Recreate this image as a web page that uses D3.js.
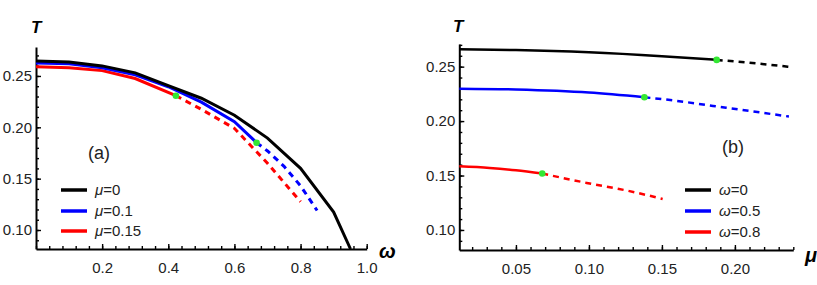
<!DOCTYPE html>
<html><head><meta charset="utf-8">
<script src="https://cdn.jsdelivr.net/npm/d3@7"></script>
<style>body{margin:0;background:#fff}svg{display:block}text{font-family:"Liberation Sans",Arial,sans-serif}</style>
</head><body><svg id="c" width="817" height="285"></svg>
<script>
// Panel (a): T vs omega
const aBlackW = [0, 0.1, 0.2, 0.3, 0.4, 0.5, 0.6, 0.7, 0.8, 0.9, 0.951];
const aBlackT = [0.2645, 0.2635, 0.2598, 0.2530, 0.2405, 0.2283, 0.2118, 0.1895, 0.1600, 0.1175, 0.0815];
const aBlueW = [0, 0.1, 0.2, 0.3, 0.4, 0.5, 0.6, 0.667];
const aBlueT = [0.2627, 0.2618, 0.2580, 0.2512, 0.2395, 0.2245, 0.2055, 0.1850];
const aBlueDW = [0.667, 0.7, 0.75, 0.8, 0.85];
const aBlueDT = [0.1850, 0.1770, 0.1620, 0.1430, 0.1190];
const aRedW = [0, 0.1, 0.2, 0.3, 0.423];
const aRedT = [0.2590, 0.2580, 0.2552, 0.2475, 0.2308];
const aRedDW = [0.423, 0.5, 0.6, 0.7, 0.8];
const aRedDT = [0.2308, 0.2175, 0.1990, 0.1650, 0.1275];
const aDotsW = [0.423, 0.667];
const aDotsT = [0.2308, 0.1850];
const aLegend = ["0", "0.1", "0.15"];
const aXTicks = [0.2, 0.4, 0.6, 0.8, 1.0];
const aYTicks = [0.10, 0.15, 0.20, 0.25];

// Panel (b): T vs mu
const bBlackM = [0.0112, 0.05, 0.1, 0.15, 0.1875];
const bBlackT = [0.2660, 0.2653, 0.2632, 0.2596, 0.2562];
const bBlackDM = [0.1875, 0.21, 0.24];
const bBlackDT = [0.2562, 0.2536, 0.2494];
const bBlueM = [0.0112, 0.05, 0.1, 0.138];
const bBlueT = [0.2298, 0.2290, 0.2262, 0.2219];
const bBlueDM = [0.138, 0.16, 0.185, 0.21, 0.237];
const bBlueDT = [0.2219, 0.2186, 0.2139, 0.2093, 0.2042];
const bRedM = [0.0112, 0.032, 0.05, 0.068];
const bRedT = [0.1585, 0.1570, 0.1548, 0.1518];
const bRedDM = [0.068, 0.0985, 0.126, 0.1505];
const bRedDT = [0.1518, 0.1432, 0.1362, 0.1285];
const bDotsM = [0.1875, 0.138, 0.068];
const bDotsT = [0.2562, 0.2219, 0.1518];
const bLegend = ["0", "0.5", "0.8"];
const bXTicks = [0.05, 0.10, 0.15, 0.20];
const bYTicks = [0.10, 0.15, 0.20, 0.25];

const colors = ["#000000", "#0000ff", "#ff0000"];
const green = "#33e833";
const svg = d3.select("#c");

const xa = d3.scaleLinear().domain([0, 1.0]).range([36, 366.7]);
const ya = d3.scaleLinear().domain([0.0815, 0.2782]).range([249, 47]);
const xb = d3.scaleLinear().domain([0.0112, 0.24]).range([459.3, 793.3]);
const yb = d3.scaleLinear().domain([0.0816, 0.2708]).range([250, 44]);

function range(a, b, s) { const r = []; for (let v = a; v <= b + 1e-9; v += s) r.push(+v.toFixed(4)); return r; }

function axes(x, y, xt, yt, xMinor, yMinor, xfmt, yfmt) {
  const [x0] = x.range(); const [y0] = y.range();
  const g = svg.append("g");
  const xa_ = g.append("g").attr("transform", `translate(0,${y0})`)
    .call(d3.axisBottom(x).tickValues(xt).tickFormat(xfmt).tickSize(-5).tickSizeOuter(0).tickPadding(13));
  xa_.select(".domain").attr("stroke-width", 2);
  g.append("g").attr("transform", `translate(0,${y0})`)
    .call(d3.axisBottom(x).tickValues(xMinor).tickFormat("").tickSize(-3).tickSizeOuter(0))
    .select(".domain").remove();
  const ya_ = g.append("g").attr("transform", `translate(${x0},0)`)
    .call(d3.axisLeft(y).tickValues(yt).tickFormat(yfmt).tickSize(-5).tickSizeOuter(0).tickPadding(4));
  ya_.select(".domain").attr("stroke-width", 2);
  g.append("g").attr("transform", `translate(${x0},0)`)
    .call(d3.axisLeft(y).tickValues(yMinor).tickFormat("").tickSize(-3).tickSizeOuter(0))
    .select(".domain").remove();
  g.selectAll(".tick line").attr("stroke-width", 1.4);
  g.selectAll("text").attr("font-size", 15).attr("fill", "#222").attr("font-family", '"Liberation Sans", Arial, sans-serif');
}

axes(xa, ya, aXTicks, aYTicks, range(0, 1.0, 0.04), range(0.09, 0.27, 0.01), d3.format(".1f"), d3.format(".2f"));
axes(xb, yb, bXTicks, bYTicks, range(0.02, 0.24, 0.01), range(0.09, 0.27, 0.01), d3.format(".2f"), d3.format(".2f"));

function curve(x, y, xs, ys, color, dashed, w, smooth) {
  const pts = xs.map((v, i) => [v, ys[i]]);
  svg.append("path").datum(pts)
    .attr("d", d3.line().x(d => x(d[0])).y(d => y(d[1])).curve(smooth ? d3.curveMonotoneX : d3.curveLinear))
    .attr("fill", "none").attr("stroke", color).attr("stroke-width", w)
    .attr("stroke-dasharray", dashed ? "6,5" : null);
}

curve(xa, ya, aRedW, aRedT, colors[2], false, 3, false);
curve(xa, ya, aRedDW, aRedDT, colors[2], true, 3, false);
curve(xa, ya, aBlueW, aBlueT, colors[1], false, 3, false);
curve(xa, ya, aBlueDW, aBlueDT, colors[1], true, 3, false);
curve(xa, ya, aBlackW, aBlackT, colors[0], false, 3, false);
aDotsW.forEach((w, i) => svg.append("circle").attr("cx", xa(w)).attr("cy", ya(aDotsT[i])).attr("r", 3.3).attr("fill", green));

curve(xb, yb, bBlackM, bBlackT, colors[0], false, 2.5, true);
curve(xb, yb, bBlackDM, bBlackDT, colors[0], true, 2.5, true);
curve(xb, yb, bBlueM, bBlueT, colors[1], false, 2.5, true);
curve(xb, yb, bBlueDM, bBlueDT, colors[1], true, 2.5, true);
curve(xb, yb, bRedM, bRedT, colors[2], false, 2.5, true);
curve(xb, yb, bRedDM, bRedDT, colors[2], true, 2.5, true);
bDotsM.forEach((m, i) => svg.append("circle").attr("cx", xb(m)).attr("cy", yb(bDotsT[i])).attr("r", 3.3).attr("fill", green));

// Axis labels
function lab(x, y, t, size) {
  svg.append("text").attr("x", x).attr("y", y).attr("font-size", size)
    .attr("font-weight", "bold").attr("font-style", "italic").attr("fill", "#000").text(t);
}
lab(31, 33, "T", 17);
lab(453, 32, "T", 17);
lab(379, 258, "ω", 20);
lab(805, 262, "μ", 20);

svg.append("text").attr("x", 99).attr("y", 159).attr("text-anchor", "middle").attr("font-size", 18).attr("fill", "#222").text("(a)");
svg.append("text").attr("x", 733).attr("y", 153).attr("text-anchor", "middle").attr("font-size", 18).attr("fill", "#222").text("(b)");

function legend(x0, y0s, sym, vals) {
  vals.forEach((v, i) => {
    svg.append("line").attr("x1", x0).attr("x2", x0 + 26).attr("y1", y0s[i]).attr("y2", y0s[i])
      .attr("stroke", colors[i]).attr("stroke-width", 3.5);
    const t = svg.append("text").attr("x", x0 + 34).attr("y", y0s[i] + 5).attr("font-size", 15).attr("fill", "#222");
    t.append("tspan").attr("font-style", "italic").text(sym);
    t.append("tspan").text("=" + v);
  });
}
legend(61, [190, 211, 231], "μ", aLegend);
legend(685, [190, 211, 232], "ω", bLegend);
</script></body></html>
